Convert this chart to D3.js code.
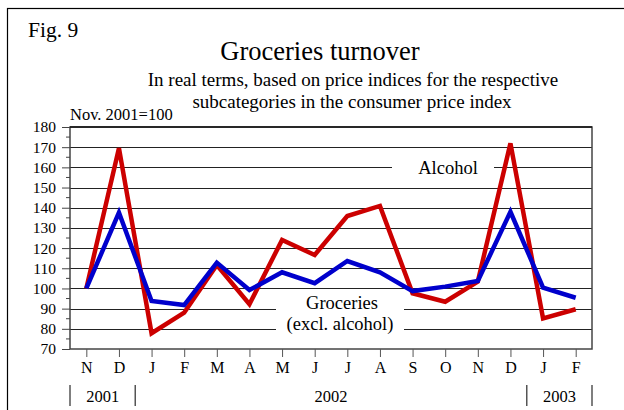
<!DOCTYPE html>
<html><head><meta charset="utf-8">
<script src="https://cdn.jsdelivr.net/npm/d3@7"></script>
<style>body{margin:0;background:#fff}svg{display:block;font-family:"Liberation Serif","Times New Roman",serif}</style>
</head><body>
<script>
const months = ["N","D","J","F","M","A","M","J","J","A","S","O","N","D","J","F"];
const alcohol = [100,169.5,77.8,88,111.6,92.2,124,116.6,135.9,140.9,97.6,93.4,103.4,171.9,85.2,89.7];
const groceries = [100,137.6,93.8,91.8,112.8,99.2,108,102.6,113.6,108,98.7,100.9,103.7,138,100.4,95.4];
const yTicks = [70,80,90,100,110,120,130,140,150,160,170,180];
const years = [{label:"2001",from:0,to:1},{label:"2002",from:2,to:13},{label:"2003",from:14,to:15}];

const W=624,H=410;
const m={l:70,r:592,t:127,b:349};
const svg=d3.select("body").append("svg").attr("width",W).attr("height",H);

// outer frame
svg.append("rect").attr("x",7.5).attr("y",8.5).attr("width",W).attr("height",H).attr("fill","none").attr("stroke","#000").attr("stroke-width",1.2);

const idx=d3.range(months.length);
const x=d3.scalePoint().domain(idx).range([m.l,m.r]).padding(0.5);
const y=d3.scaleLinear().domain([70,180]).range([m.b,m.t]);

// gridlines with gaps
const gaps={160:[[392,494]],90:[[276,404]],80:[[276,404]]};
yTicks.filter(v=>v>70&&v<180).forEach(v=>{
  let segs=[[m.l,m.r]];
  if(gaps[v]){segs=[];let s=m.l;gaps[v].forEach(g=>{segs.push([s,g[0]]);s=g[1];});segs.push([s,m.r]);}
  segs.forEach(sg=>svg.append("line").attr("x1",sg[0]).attr("x2",sg[1]).attr("y1",Math.round(y(v))+0.5).attr("y2",Math.round(y(v))+0.5).attr("stroke","#222").attr("stroke-width",1));
});

// frame
svg.append("rect").attr("x",m.l).attr("y",m.t).attr("width",m.r-m.l).attr("height",m.b-m.t).attr("fill","none").attr("stroke","#444").attr("stroke-width",1.5);
svg.append("line").attr("x1",m.l).attr("x2",m.r).attr("y1",m.t).attr("y2",m.t).attr("stroke","#111").attr("stroke-width",1.5);

// y axis
const ya=svg.append("g").attr("transform",`translate(${m.l},0)`).call(d3.axisLeft(y).tickValues(yTicks).tickSize(8).tickPadding(6).tickFormat(d3.format("d")));
ya.select(".domain").remove();
ya.selectAll("line").attr("stroke","#444");
ya.selectAll("text").attr("font-size",15.5).attr("font-family","Liberation Serif").attr("fill","#000");
const minor=d3.range(75,180,10);
svg.append("g").selectAll("line").data(minor).join("line").attr("x1",m.l-4).attr("x2",m.l).attr("y1",d=>y(d)).attr("y2",d=>y(d)).attr("stroke","#444");

// x axis
const xa=svg.append("g").attr("transform",`translate(0,${m.b})`).call(d3.axisBottom(x).tickSize(8).tickPadding(5).tickFormat(i=>months[i]));
xa.select(".domain").remove();
xa.selectAll("line").attr("stroke","#555");
xa.selectAll("text").attr("font-size",16).attr("font-family","Liberation Serif").attr("fill","#000");

// year separators
const step=x.step();
const bounds=[m.l];
years.forEach(yr=>bounds.push(x(yr.to)+step/2));
bounds.forEach(b=>svg.append("line").attr("x1",b).attr("x2",b).attr("y1",385).attr("y2",406).attr("stroke","#555").attr("stroke-width",1.5));
years.forEach(yr=>svg.append("text").attr("x",(x(yr.from)+x(yr.to))/2).attr("y",402).attr("text-anchor","middle").attr("font-size",16.5).text(yr.label));

// lines
const line=d3.line().x((d,i)=>x(i)).y(d=>y(d));
svg.append("path").datum(alcohol).attr("d",line).attr("fill","none").attr("stroke","#cc0000").attr("stroke-width",4.5).attr("stroke-linejoin","miter");
svg.append("path").datum(groceries).attr("d",line).attr("fill","none").attr("stroke","#0000cc").attr("stroke-width",4.5).attr("stroke-linejoin","miter");

// labels
svg.append("text").attr("x",448).attr("y",174).attr("text-anchor","middle").attr("font-size",18.5).text("Alcohol");
svg.append("text").attr("x",342).attr("y",309).attr("text-anchor","middle").attr("font-size",18.5).text("Groceries");
svg.append("text").attr("x",340).attr("y",330).attr("text-anchor","middle").attr("font-size",18.5).text("(excl. alcohol)");

// titles
svg.append("text").attr("x",28).attr("y",37).attr("font-size",21.5).text("Fig. 9");
svg.append("text").attr("x",320).attr("y",60).attr("text-anchor","middle").attr("font-size",26.5).text("Groceries turnover");
svg.append("text").attr("x",353).attr("y",86).attr("text-anchor","middle").attr("font-size",19).text("In real terms, based on price indices for the respective");
svg.append("text").attr("x",352).attr("y",108).attr("text-anchor","middle").attr("font-size",19).text("subcategories in the consumer price index");
svg.append("text").attr("x",70).attr("y",120).attr("font-size",16.5).text("Nov. 2001=100");
</script>
</body></html>
